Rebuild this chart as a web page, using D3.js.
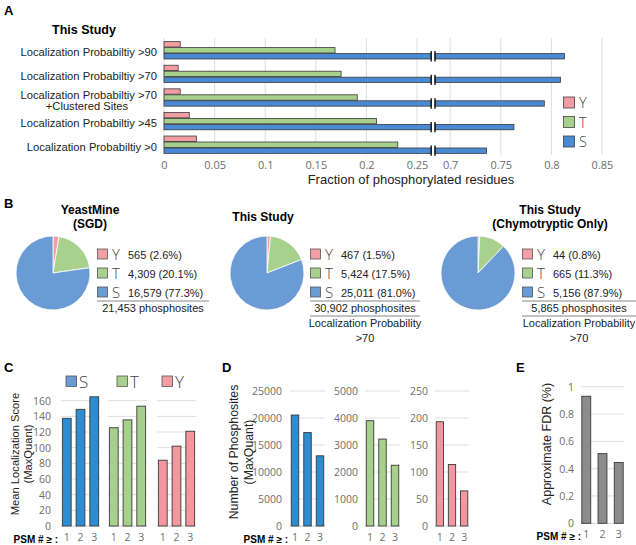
<!DOCTYPE html>
<html><head><meta charset="utf-8">
<script src="https://cdn.jsdelivr.net/npm/d3@7"></script>
<style>
body{margin:0;background:#fff;}
svg{display:block;font-family:"Liberation Sans",Arial,sans-serif;}
</style></head>
<body><svg id="c" width="636" height="545"></svg>
<script>
// ---------- DATA ----------
const catsA = ["Localization Probabiltiy >90","Localization Probabiltiy >70","Localization Probabiltiy >70|+Clustered Sites","Localization Probabiltiy >45","Localization Probabiltiy >0"];
const residues = ["Y","T","S"];
const fracY = [0.016,0.014,0.016,0.025,0.032];
const fracT = [0.169,0.175,0.191,0.210,0.231];
const fracS = [0.813,0.809,0.793,0.763,0.736];
const ticksLeftA = [0,0.05,0.1,0.15,0.2,0.25];
const ticksRightA = [0.7,0.75,0.8,0.85];

const pieTitles = [["YeastMine","(SGD)"],["This Study"],["This Study","(Chymotryptic Only)"]];
const pieYeastMine = [565,4309,16579];
const pieThisStudy = [467,5424,25011];
const pieChymo = [44,665,5156];
const pieLabels = [["565 (2.6%)","4,309 (20.1%)","16,579 (77.3%)"],["467 (1.5%)","5,424 (17.5%)","25,011 (81.0%)"],["44 (0.8%)","665 (11.3%)","5,156 (87.9%)"]];
const pieTotals = ["21,453 phosphosites","30,902 phosphosites","5,865 phosphosites"];

const psm = ["1","2","3"];
const scoreS = [137.5,149,165];
const scoreT = [125.5,135.5,153];
const scoreY = [84,102,121];
const ticksC = [0,20,40,60,80,100,120,140,160];

const countS = [20550,17300,13000];
const countT = [3900,3220,2250];
const countY = [193,114,65];
const ticksDS = [0,5000,10000,15000,20000,25000];
const ticksDT = [0,1000,2000,3000,4000,5000];
const ticksDY = [0,50,100,150,200,250];

const fdr = [0.93,0.51,0.445];
const ticksE = [0,0.2,0.4,0.6,0.8,1];

// ---------- STYLE ----------
const colA = {Y:"#f19ca3",T:"#a6d08c",S:"#4a89d3"};
const colPie = {Y:"#f39ea5",T:"#a9d18e",S:"#6a9bd4"};
const colBar = {Y:"#f2979f",T:"#a6d08c",S:"#2e8dd0"};
const grid = "#dedede", tickCol = "#6e6e6e", stroke = "#3a3a3a";
const tickFont = "'Open Sans','Noto Sans',sans-serif";

const svg = d3.select("#c");

function panelLabel(t,x,y){svg.append("text").attr("x",x).attr("y",y).attr("font-weight","bold").attr("font-size",13).text(t);}

// ================= PANEL A =================
panelLabel("A",4,15);
svg.append("text").attr("x",84).attr("y",34).attr("text-anchor","middle").attr("font-weight","bold").attr("font-size",12.5).text("This Study");

const k = 1012; // px per unit
const xL = d3.scaleLinear().domain([0,0.264]).range([164,164+0.264*k]);
const xR = d3.scaleLinear().domain([0.685,0.86]).range([435,435+(0.86-0.685)*k]);
const yRow = d3.scaleBand().domain(catsA).range([38.5,156.5]).paddingInner(0.24).paddingOuter(0.12);
const yIn = d3.scaleBand().domain(residues).range([0,yRow.bandwidth()]);
const gA = svg.append("g");
ticksLeftA.forEach(t=>gA.append("line").attr("x1",xL(t)).attr("x2",xL(t)).attr("y1",38).attr("y2",155).attr("stroke",grid));
ticksRightA.forEach(t=>gA.append("line").attr("x1",xR(t)).attr("x2",xR(t)).attr("y1",38).attr("y2",155).attr("stroke",grid));
const axL = d3.axisBottom(xL).tickValues(ticksLeftA).tickSize(0).tickFormat(d=>d===0?"0":String(d));
const axR = d3.axisBottom(xR).tickValues(ticksRightA).tickSize(0).tickFormat(d=>String(d));
[axL,axR].forEach(ax=>{
  const g=gA.append("g").attr("transform","translate(0,158)").call(ax);
  g.select(".domain").remove();
  g.selectAll("text").attr("fill",tickCol).attr("font-size",11).attr("font-family",tickFont);
});
svg.append("text").attr("x",411).attr("y",184).attr("text-anchor","middle").attr("font-size",13).attr("fill","#222").text("Fraction of phosphorylated residues");
const seriesA = {Y:fracY,T:fracT,S:fracS};
catsA.forEach((c,i)=>{
  residues.forEach(r=>{
    const v = seriesA[r][i];
    const y = yRow(c)+yIn(r)+0.3, h = yIn.bandwidth()-0.6;
    if(v <= 0.264){
      gA.append("rect").attr("x",xL(0)).attr("y",y).attr("width",xL(v)-xL(0)).attr("height",h).attr("fill",colA[r]).attr("stroke",stroke).attr("stroke-width",0.8);
    } else {
      gA.append("rect").attr("x",xL(0)).attr("y",y).attr("width",xL(0.264)-xL(0)).attr("height",h).attr("fill",colA[r]).attr("stroke",stroke).attr("stroke-width",0.8);
      gA.append("rect").attr("x",xR(0.685)).attr("y",y).attr("width",xR(v)-xR(0.685)).attr("height",h).attr("fill",colA[r]).attr("stroke",stroke).attr("stroke-width",0.8);
      [xL(0.264),xR(0.685)].forEach(xx=>gA.append("line").attr("x1",xx).attr("x2",xx).attr("y1",y-2.5).attr("y2",y+h+2.5).attr("stroke","#111").attr("stroke-width",1.4));
    }
  });
  const lines = c.split("|");
  const yc = yRow(c)+yRow.bandwidth()/2;
  if(lines.length===1){
    gA.append("text").attr("x",157).attr("y",yc+6).attr("text-anchor","end").attr("font-size",11.2).attr("fill","#222").text(lines[0]);
  } else {
    gA.append("text").attr("x",157).attr("y",yc+1).attr("text-anchor","end").attr("font-size",11.2).attr("fill","#222").text(lines[0]);
    gA.append("text").attr("x",87).attr("y",yc+12.5).attr("text-anchor","middle").attr("font-size",11.2).attr("fill","#222").text(lines[1]);
  }
});
residues.forEach((r,i)=>{
  const y = 97+i*19.5;
  svg.append("rect").attr("x",563.5).attr("y",y).attr("width",11).attr("height",11).attr("fill",colA[r]).attr("stroke","#444").attr("stroke-width",0.8);
  svg.append("text").attr("x",579).attr("y",y+11).attr("font-size",14.5).attr("font-family",tickFont).attr("font-weight",300).attr("fill","#444").text(r);
});

// ================= PANEL B =================
panelLabel("B",4,208);
const pies = [pieYeastMine,pieThisStudy,pieChymo];
const pieCx = [53,267,478];
const titleCx = [90,263,550];
const legX = [97,310,522];
const lineW = [112,110,114];
const pieGen = d3.pie().sort(null).value(d=>d);
const arc = d3.arc().innerRadius(0).outerRadius(37);
pies.forEach((data,p)=>{
  const g = svg.append("g").attr("transform",`translate(${pieCx[p]},273)`);
  g.selectAll("path").data(pieGen(data)).join("path").attr("d",arc).attr("fill",(d,i)=>colPie[residues[i]]).attr("stroke","#fff").attr("stroke-width",0.8);
  const tl = pieTitles[p];
  const tY = tl.length===1 ? 221 : 214;
  tl.forEach((t,j)=>svg.append("text").attr("x",titleCx[p]).attr("y",tY+j*14).attr("text-anchor","middle").attr("font-weight","bold").attr("font-size",12).text(t));
  residues.forEach((r,i)=>{
    const y = 249+i*19;
    svg.append("rect").attr("x",legX[p]+0.5).attr("y",y).attr("width",10).attr("height",10).attr("fill",colPie[r]).attr("stroke","#555").attr("stroke-width",0.8);
    svg.append("text").attr("x",legX[p]+15).attr("y",y+10.5).attr("font-size",15).attr("font-family",tickFont).attr("font-weight",300).attr("fill","#444").text(r);
    svg.append("text").attr("x",legX[p]+31).attr("y",y+9.5).attr("font-size",11).attr("fill","#222").text(pieLabels[p][i]);
  });
  svg.append("line").attr("x1",legX[p]).attr("x2",legX[p]+lineW[p]).attr("y1",301).attr("y2",301).attr("stroke","#888");
  const cx = legX[p]+lineW[p]/2;
  svg.append("text").attr("x",cx).attr("y",312).attr("text-anchor","middle").attr("font-size",11).attr("fill","#222").text(pieTotals[p]);
  if(p>0){
    svg.append("line").attr("x1",legX[p]).attr("x2",legX[p]+lineW[p]).attr("y1",316).attr("y2",316).attr("stroke","#888");
    svg.append("text").attr("x",cx).attr("y",327).attr("text-anchor","middle").attr("font-size",11).attr("fill","#222").text("Localization Probability");
    svg.append("text").attr("x",cx).attr("y",342).attr("text-anchor","middle").attr("font-size",11).attr("fill","#222").text(">70");
  }
});

// ================= helpers for bar panels =================
function subChart(opts){
  const {x0,w,y,values,color,ticks,labelX,tickFmt,pad,showTicks} = opts;
  const x = d3.scaleBand().domain(psm).range([x0,x0+w]).paddingInner(pad[0]).paddingOuter(pad[1]);
  const g = svg.append("g");
  ticks.forEach(t=>g.append("line").attr("x1",x0).attr("x2",x0+w).attr("y1",y(t)).attr("y2",y(t)).attr("stroke",t===0?"#cfcfcf":grid));
  if(showTicks){
    const ax = d3.axisLeft(y).tickValues(ticks).tickSize(0).tickFormat(tickFmt||(d=>String(d)));
    const ga = g.append("g").attr("transform",`translate(${labelX},0)`).call(ax);
    ga.select(".domain").remove();
    ga.selectAll("text").attr("fill",tickCol).attr("font-size",10.5).attr("font-family",tickFont).attr("dx",0);
  }
  g.selectAll("rect").data(values).join("rect")
    .attr("x",(d,i)=>x(psm[i])).attr("width",x.bandwidth())
    .attr("y",d=>y(d)).attr("height",d=>y(0)-y(d))
    .attr("fill",color).attr("stroke",stroke).attr("stroke-width",0.9);
  const xa = d3.axisBottom(x).tickSize(0);
  const gx = g.append("g").attr("transform",`translate(0,${opts.xLabY})`).call(xa);
  gx.select(".domain").remove();
  gx.selectAll("text").attr("fill",tickCol).attr("font-size",10.5).attr("font-family",tickFont);
}
function psmLabel(xEnd,y){
  svg.append("text").attr("x",xEnd).attr("y",y).attr("text-anchor","end").attr("font-weight","bold").attr("font-size",10).text("PSM # \u2265 :");
}
function yTitle(lines,cx,cy,fs){
  lines.forEach((t,j)=>svg.append("text").attr("transform",`translate(${cx[j]},${cy}) rotate(-90)`).attr("text-anchor","middle").attr("font-size",fs).attr("fill","#222").text(t));
}

// ================= PANEL C =================
panelLabel("C",4,372);
const yC = d3.scaleLinear().domain([0,160]).range([526,400.7]);
const cGroups = [{x0:61,vals:scoreS,r:"S"},{x0:108,vals:scoreT,r:"T"},{x0:157,vals:scoreY,r:"Y"}];
cGroups.forEach((gp,i)=>subChart({x0:gp.x0,w:39,y:yC,values:gp.vals,color:colBar[gp.r],ticks:ticksC,labelX:54,pad:[0.36,0.1],showTicks:i===0,xLabY:531}));
[["S",66],["T",117],["Y",162]].forEach(([r,x])=>{
  svg.append("rect").attr("x",x).attr("y",376).attr("width",10.5).attr("height",10.5).attr("fill",colPie[r]).attr("stroke","#555").attr("stroke-width",0.8);
  svg.append("text").attr("x",x+13).attr("y",388).attr("font-size",17).attr("font-family",tickFont).attr("font-weight",300).attr("fill","#444").text(r);
});
yTitle(["Mean Localization Score","(MaxQuant)"],[19,32],454,11.2);
psmLabel(58,542.5);

// ================= PANEL D =================
panelLabel("D",222,372);
const yD = [d3.scaleLinear().domain([0,25000]).range([526,391]),
            d3.scaleLinear().domain([0,5000]).range([526,391]),
            d3.scaleLinear().domain([0,250]).range([526,391])];
const dGroups = [{x0:290,w:35,vals:countS,r:"S",t:ticksDS,lx:285},{x0:365,w:35,vals:countT,r:"T",t:ticksDT,lx:361},{x0:435,w:34,vals:countY,r:"Y",t:ticksDY,lx:431}];
dGroups.forEach((gp,i)=>subChart({x0:gp.x0,w:gp.w,y:yD[i],values:gp.vals,color:colBar[gp.r],ticks:gp.t,labelX:gp.lx,pad:[0.4,0.1],showTicks:true,xLabY:531}));
yTitle(["Number of Phosphosites","(MaxQuant)"],[238,253],452,12.3);
psmLabel(288,542.5);

// ================= PANEL E =================
panelLabel("E",516,372);
const yE = d3.scaleLinear().domain([0,1]).range([523.3,386.7]);
subChart({x0:581,w:43,y:yE,values:fdr,color:"#8c8c8c",ticks:ticksE,labelX:577,pad:[0.45,0.05],showTicks:true,xLabY:528});
yTitle(["Approximate FDR (%)"],[551],444,12.5);
psmLabel(581,540);
</script></body></html>
